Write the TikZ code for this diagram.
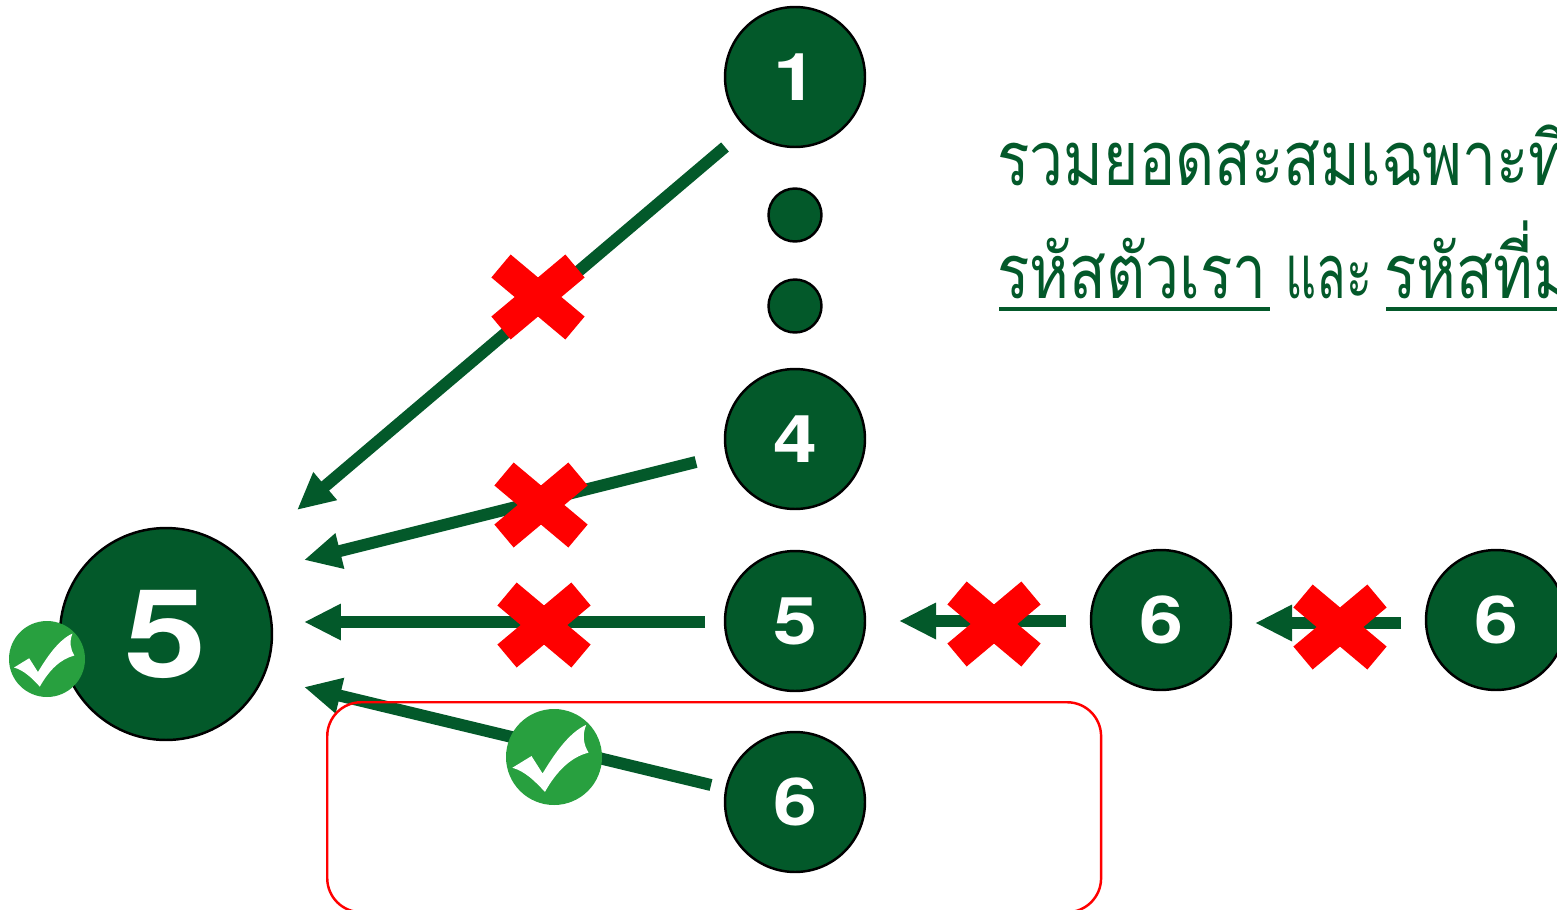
\documentclass[tikz,border=0pt]{standalone}
\usepackage{fontspec}
\usetikzlibrary{arrows.meta,backgrounds}
\newfontfamily\thaifont[Script=Thai,FakeStretch=0.8]{Loma}
\newfontfamily\numfont[FakeStretch=1.2]{TeX Gyre Heros}
\definecolor{leaf}{HTML}{03592A}
\definecolor{okgreen}{HTML}{28A03F}
\begin{document}
\begin{tikzpicture}[x=0.02cm,y=-0.02cm,
  okmark/.pic={
    \fill[okgreen] (0,0) circle (1);
    \fill[white] (-0.867,0.224) -- (-0.469,-0.02) -- (-0.238,0.343)
      .. controls (0,-0.05) and (0.3,-0.5) .. (0.671,-0.671)
      .. controls (0.58,-0.45) and (0.62,-0.25) .. (0.72,-0.091)
      .. controls (0.35,0) and (0.05,0.3) .. (-0.189,0.727)
      .. controls (-0.4,0.5) and (-0.6,0.3) .. cycle;
  },
  redcross/.pic={
    \draw[red,line width=0.6cm] (-37,-31) -- (37,31) (-37,31) -- (37,-31);
  }]

    % `stage' is used for the numbered circles.
    % `dot' stands for the skipped rows.
    % `back' is used for the green arrows.
    \tikzstyle{stage} = [draw=black,line width=1.4pt,fill=leaf,circle,inner sep=0pt,text=white,minimum size=2.8cm,font=\numfont\bfseries\fontsize{37.5}{37.5}\selectfont]
    \tikzstyle{dot} = [draw=black,line width=1.4pt,fill=leaf,circle,inner sep=0pt,minimum size=1.06cm]
    \tikzstyle{back} = [draw=leaf,line width=6.8pt,-{Triangle[length=0.74cm,width=0.68cm]}]
    \tikzstyle{thaitext} = [anchor=base west,inner sep=0pt,text=leaf,font=\thaifont\fontsize{43}{43}\selectfont]
    \tikzstyle{uline} = [draw=leaf,line width=2.8pt]
    %
    \clip (0,0) rectangle (1557,909);

    \node[draw=red,line width=1.4pt,rounded corners=0.68cm,minimum width=15.48cm,minimum height=4.2cm,anchor=north west] (codebox) at (326,701) {};

    % Circles of the right side.
    \node[stage] (S1) at (795,77) {1};
    \node[dot] (D1) at (795,215) {};
    \node[dot] (D2) at (795,306) {};
    \node[stage] (S4) at (795,439) {4};
    \node[stage] (S5) at (795,621) {5};
    \node[stage] (S6) at (795,802) {6};
    \node[stage] (N6) at (1161,620) {6};
    \node[stage] (M6) at (1496,620) {6};
    \node[stage,minimum size=4.24cm,font=\numfont\bfseries\fontsize{70}{70}\selectfont] (T5) at (166,634) {5};

    % Free ends of the arrows.
    \coordinate (from1) at (725,147);
    \coordinate (to1) at (297,510);
    \coordinate (from4) at (696,462);
    \coordinate (to4) at (304,560);
    \coordinate (from5) at (705,622);
    \coordinate (to5) at (304,622);
    \coordinate (from6) at (711,785);
    \coordinate (to6) at (304,687);
    \coordinate (fromN) at (1066,621);
    \coordinate (toN) at (899,621);
    \coordinate (fromM) at (1401,623);
    \coordinate (toM) at (1255,623);

    \pic at (538,297) {redcross};
    \pic at (541,505) {redcross};
    \pic at (544,625) {redcross};
    \pic at (994,624) {redcross};
    \pic at (1340,627) {redcross};

    \pic[scale=38] at (47,659) {okmark};
    \pic[scale=48] at (554,757) {okmark};

    % Text on the right.
    \node[thaitext] (line1) at (997,185) {รวมยอดสะสมเฉพาะที่};
    \node[thaitext] (code1) at (997,298) {รหัสตัวเรา};
    \node[thaitext,transform shape,xscale=0.8] (word) at (1285,298) {และ};
    \node[thaitext] (code2) at (1384,298) {รหัสที่ม};
    \coordinate (ul1) at (999,309);
    \coordinate (ul2) at (1270,309);
    \coordinate (ul3) at (1386,309);
    \coordinate (ul4) at (1557,309);
    \draw[uline] (ul1) -- (ul2) (ul3) -- (ul4);

    \begin{pgfonlayer}{background}
        % Draw arrows.
        \draw[back] (from1) -- (to1);
        \draw[back] (from4) -- (to4);
        \draw[back] (from5) -- (to5);
        \draw[back] (from6) -- (to6);
        \draw[back] (fromN) -- (toN);
        \draw[back] (fromM) -- (toM);
    \end{pgfonlayer}
    %
\end{tikzpicture}
\end{document}
